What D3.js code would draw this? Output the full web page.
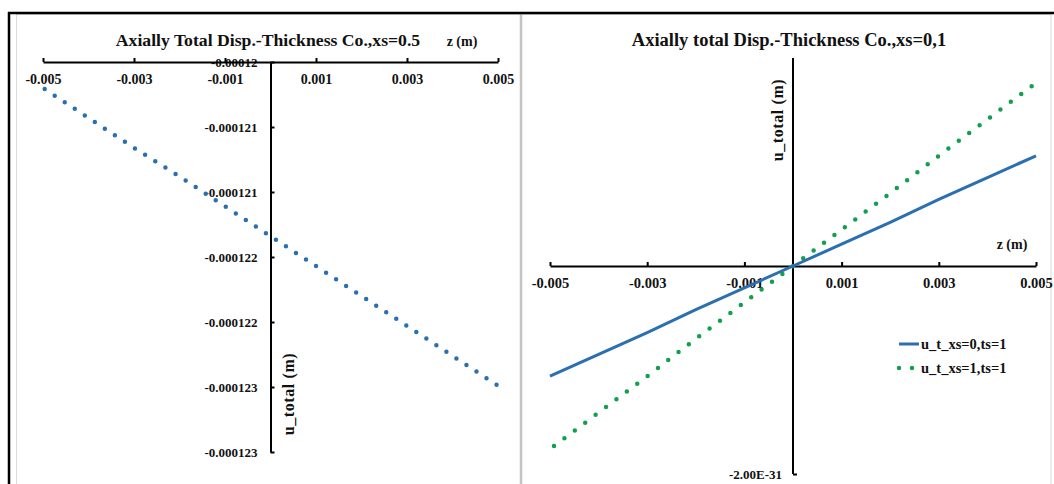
<!DOCTYPE html>
<html>
<head>
<meta charset="utf-8">
<script src="https://cdn.jsdelivr.net/npm/d3@7"></script>
<style>
  html, body { margin: 0; padding: 0; background: #fff; }
  svg { display: block; }
  text { font-family: "Liberation Serif", "Times New Roman", serif; font-weight: bold; fill: #111; }
</style>
</head>
<body>
<svg id="chart" width="1054" height="484"></svg>
<script>
// Through-thickness coordinate z (m)
const zValues = [-0.005, -0.004, -0.003, -0.002, -0.001, 0, 0.001, 0.002, 0.003, 0.004, 0.005];

// Left panel: total axial displacement, xs = 0.5
const uTotalXs05 = [-0.00012020, -0.00012043, -0.00012066, -0.00012088, -0.00012111, -0.00012134,
                    -0.00012157, -0.00012180, -0.00012203, -0.00012226, -0.00012249];

// Right panel: total axial displacement, xs = 0 and xs = 1 (ts = 1)
const uTotalXs0 = [-1.06e-31, -8.5e-32, -6.4e-32, -4.2e-32, -2.1e-32, 0, 2.1e-32, 4.2e-32, 6.4e-32, 8.5e-32, 1.06e-31];
const uTotalXs1 = [-1.76e-31, -1.41e-31, -1.06e-31, -7.0e-32, -3.5e-32, 0, 3.5e-32, 7.0e-32, 1.06e-31, 1.41e-31, 1.76e-31];

// Axis ticks and labels
const zTicks = [-0.005, -0.003, -0.001, 0.001, 0.003, 0.005];
const zTickLabels = ["-0.005", "-0.003", "-0.001", "0.001", "0.003", "0.005"];
const leftUTicks = [-0.00012, -0.0001205, -0.000121, -0.0001215, -0.000122, -0.0001225, -0.000123];
const leftUTickLabels = ["-0.00012", "-0.000121", "-0.000121", "-0.000122", "-0.000122", "-0.000123", "-0.000123"];
const rightUTicks = [-2e-31];
const rightUTickLabels = ["-2.00E-31"];

const titles = ["Axially Total Disp.-Thickness Co.,xs=0.5", "Axially total Disp.-Thickness Co.,xs=0,1"];
const seriesNames = ["u_t_xs=0,ts=1", "u_t_xs=1,ts=1"];

const BLUE = "#2a6fb0";
const GREEN = "#12a04e";
const FONT = "Liberation Serif, Times New Roman, serif";

const svg = d3.select("#chart");

// Panel frames
svg.append("rect").attr("x", 16.5).attr("y", 14.5).attr("width", 504).attr("height", 480)
  .attr("fill", "#fff").attr("stroke", "#d9d9d9").attr("stroke-width", 1);
svg.append("rect").attr("x", 521.5).attr("y", 14.5).attr("width", 529.5).attr("height", 480)
  .attr("fill", "#fff").attr("stroke", "#d9d9d9").attr("stroke-width", 1);
svg.append("line").attr("x1", 521).attr("x2", 521).attr("y1", 14).attr("y2", 484)
  .attr("stroke", "#c4c4c4").attr("stroke-width", 2.5);
// Outer black frame (top and left)
svg.append("line").attr("x1", 8).attr("x2", 1054).attr("y1", 13).attr("y2", 13)
  .attr("stroke", "#000").attr("stroke-width", 2.5);
svg.append("line").attr("x1", 9).attr("x2", 9).attr("y1", 12).attr("y2", 484)
  .attr("stroke", "#000").attr("stroke-width", 2.5);

function styleAxis(g, fontSize) {
  g.attr("font-family", FONT);
  g.selectAll(".domain").attr("stroke", "#000").attr("stroke-width", 2);
  g.selectAll(".tick line").attr("stroke", "#000").attr("stroke-width", 2);
  g.selectAll(".tick text").attr("font-size", fontSize).attr("fill", "#111")
    .attr("font-family", FONT).attr("font-weight", "bold");
}

// ---------- Left panel ----------
{
  const x = d3.scaleLinear().domain([-0.005, 0.005]).range([43, 498]);
  const y = d3.scaleLinear().domain([-0.00012, -0.000123]).range([62, 452]);

  const gy = svg.append("g").attr("transform", `translate(${x(0)},0)`)
    .call(d3.axisLeft(y).tickValues(leftUTicks).tickFormat((d, i) => leftUTickLabels[i])
      .tickSizeInner(-4).tickSizeOuter(0).tickPadding(13));
  styleAxis(gy, 13);

  const gx = svg.append("g").attr("transform", `translate(0,${y(-0.00012)})`)
    .call(d3.axisBottom(x).tickValues(zTicks).tickFormat((d, i) => zTickLabels[i])
      .tickSizeInner(-4).tickSizeOuter(0).tickPadding(12));
  styleAxis(gx, 14);

  const line = d3.line().x((d, i) => x(zValues[i])).y(d => y(d));
  svg.append("path").datum(uTotalXs05).attr("d", line)
    .attr("fill", "none").attr("stroke", BLUE).attr("stroke-width", 4.5)
    .attr("stroke-linecap", "round").attr("stroke-dasharray", "0 12")
    .attr("stroke-dashoffset", -2);

  svg.append("text").attr("x", 268).attr("y", 46).attr("text-anchor", "middle")
    .attr("font-size", 17.7).text(titles[0]);
  svg.append("text").attr("x", 462).attr("y", 46).attr("text-anchor", "middle")
    .attr("font-size", 14).text("z (m)");
  svg.append("text").attr("transform", "translate(294,394) rotate(-90)")
    .attr("text-anchor", "middle").attr("font-size", 16).attr("letter-spacing", 0.6)
    .text("u_total (m)");
}

// ---------- Right panel ----------
{
  const x = d3.scaleLinear().domain([-0.005, 0.005]).range([550, 1036]);
  const y = d3.scaleLinear().domain([-2e-31, 2e-31]).range([474, 58]);

  const gy = svg.append("g").attr("transform", `translate(${x(0)},0)`)
    .call(d3.axisLeft(y).tickValues(rightUTicks).tickFormat((d, i) => rightUTickLabels[i])
      .tickSizeInner(-4).tickSizeOuter(0).tickPadding(11));
  gy.select(".domain").attr("d", `M0,${y(2e-31)}V${y(-2e-31)}`);
  styleAxis(gy, 13);

  const gx = svg.append("g").attr("transform", `translate(0,${y(0)})`)
    .call(d3.axisBottom(x).tickValues(zTicks).tickFormat((d, i) => zTickLabels[i])
      .tickSizeInner(-4).tickSizeOuter(0).tickPadding(12));
  styleAxis(gx, 14.5);

  const line = d3.line().x((d, i) => x(zValues[i])).y(d => y(d));
  svg.append("path").datum(uTotalXs1).attr("d", line)
    .attr("fill", "none").attr("stroke", GREEN).attr("stroke-width", 4.5)
    .attr("stroke-linecap", "round").attr("stroke-dasharray", "0 13")
    .attr("stroke-dashoffset", -5);
  svg.append("path").datum(uTotalXs0).attr("d", line)
    .attr("fill", "none").attr("stroke", BLUE).attr("stroke-width", 3);

  svg.append("text").attr("x", 789).attr("y", 46).attr("text-anchor", "middle")
    .attr("font-size", 18.5).text(titles[1]);
  svg.append("text").attr("x", 1012).attr("y", 249).attr("text-anchor", "middle")
    .attr("font-size", 14).text("z (m)");
  svg.append("text").attr("transform", "translate(783,120) rotate(-90)")
    .attr("text-anchor", "middle").attr("font-size", 16).attr("letter-spacing", 0.6)
    .text("u_total (m)");

  // Legend
  const legend = svg.append("g");
  const rows = [
    { name: seriesNames[0], color: BLUE, dash: null, width: 3 },
    { name: seriesNames[1], color: GREEN, dash: "0 13", width: 4.5 }
  ];
  rows.forEach((r, i) => {
    const yy = 344 + i * 24;
    const l = legend.append("line").attr("x1", 899).attr("x2", 919).attr("y1", yy).attr("y2", yy)
      .attr("stroke", r.color).attr("stroke-width", r.width);
    if (r.dash) l.attr("stroke-dasharray", r.dash).attr("stroke-linecap", "round");
    legend.append("text").attr("x", 921).attr("y", yy + 5).attr("font-size", 14.5).text(r.name);
  });
}
</script>
</body>
</html>
